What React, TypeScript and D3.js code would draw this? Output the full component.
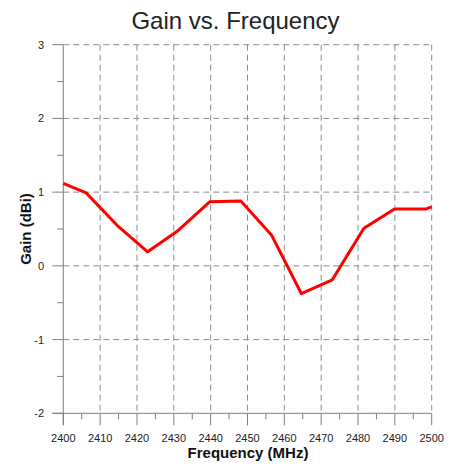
import React from "react";
import * as d3 from "d3";

const freqs = [2400, 2406.2, 2414.6, 2422.9, 2431.2, 2439.8, 2448.2, 2456.5, 2464.6, 2473, 2481.6, 2489.9, 2498.3, 2500];
const gains = [1.12, 0.99, 0.55, 0.19, 0.48, 0.87, 0.88, 0.42, -0.375, -0.19, 0.51, 0.77, 0.77, 0.8];
const xTicks = [2400, 2410, 2420, 2430, 2440, 2450, 2460, 2470, 2480, 2490, 2500];
const xMinor = [2405, 2415, 2425, 2435, 2445, 2455, 2465, 2475, 2485, 2495];
const yTicks = [-2, -1, 0, 1, 2, 3];
const yMinor = [-1.5, -0.5, 0.5, 1.5, 2.5];

export default function App() {
  const W = 460, H = 464;
  const x = d3.scaleLinear().domain([2400, 2500]).range([63.3, 431.7]);
  const y = d3.scaleLinear().domain([-2, 3]).range([413.3, 44.7]);
  const line = d3.line<number>().x((_, i) => x(freqs[i])).y((d) => y(d));
  const axisColor = "#7f7f7f";
  const gridColor = "#8c8c8c";
  const font = "Arial, 'Liberation Sans', sans-serif";
  const [x0, x1] = x.range();
  const [y0, y1] = y.range();
  return (
    <svg width={W} height={H} style={{ position: "absolute", left: 0, top: 0, background: "#fff" }}>
      <text x={235.5} y={29} textAnchor="middle" fontFamily={font} fontSize={24} fill="#222">Gain vs. Frequency</text>
      {/* grid */}
      {xTicks.filter((t) => t !== 2400).map((t) => (
        <line key={"gx" + t} x1={x(t)} x2={x(t)} y1={y1} y2={y0} stroke={gridColor} strokeWidth={1} strokeDasharray="6,4" />
      ))}
      {yTicks.filter((t) => t !== -2).map((t) => (
        <line key={"gy" + t} x1={x0} x2={x1} y1={y(t)} y2={y(t)} stroke={gridColor} strokeWidth={1} strokeDasharray="6,4" />
      ))}
      {/* axes */}
      <line x1={x0} x2={x0} y1={y1} y2={y0 + 12} stroke={axisColor} strokeWidth={1} />
      <line x1={x0 - 11} x2={x1} y1={y0} y2={y0} stroke={axisColor} strokeWidth={1} />
      {yTicks.map((t) => (
        <g key={"ty" + t}>
          <line x1={x0 - 11} x2={x0} y1={y(t)} y2={y(t)} stroke={axisColor} strokeWidth={1} />
          <text x={44} y={y(t) + 4} textAnchor="end" fontFamily={font} fontSize={11} fill="#222">{t}</text>
        </g>
      ))}
      {yMinor.map((t) => (
        <line key={"my" + t} x1={x0 - 6} x2={x0} y1={y(t)} y2={y(t)} stroke={axisColor} strokeWidth={1} />
      ))}
      {xTicks.map((t) => (
        <g key={"tx" + t}>
          <line x1={x(t)} x2={x(t)} y1={y0} y2={y0 + 12} stroke={axisColor} strokeWidth={1} />
          <text x={x(t)} y={442} textAnchor="middle" fontFamily={font} fontSize={11} fill="#222">{t}</text>
        </g>
      ))}
      {xMinor.map((t) => (
        <line key={"mx" + t} x1={x(t)} x2={x(t)} y1={y0} y2={y0 + 6} stroke={axisColor} strokeWidth={1} />
      ))}
      <path d={line(gains) || ""} fill="none" stroke="#ff0000" strokeWidth={3} strokeLinejoin="round" />
      <text x={248} y={458} textAnchor="middle" fontFamily={font} fontSize={15} fontWeight="bold" fill="#111">Frequency (MHz)</text>
      <text transform={`translate(31,229) rotate(-90)`} textAnchor="middle" fontFamily={font} fontSize={15} fontWeight="bold" fill="#111">Gain (dBi)</text>
    </svg>
  );
}
